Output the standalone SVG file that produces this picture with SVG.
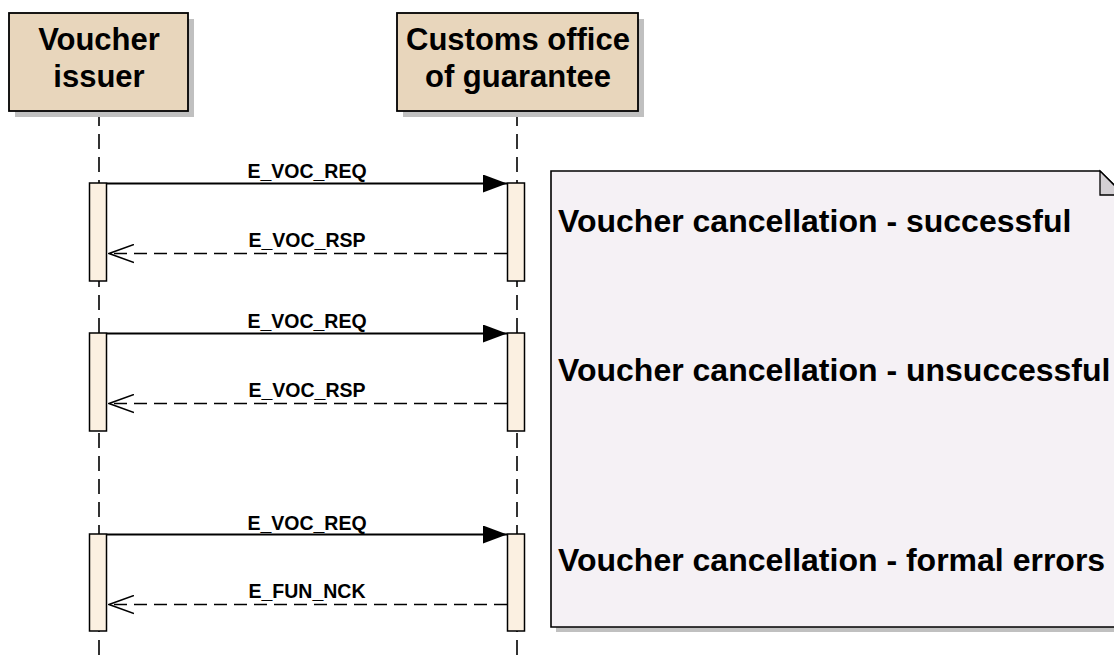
<svg xmlns="http://www.w3.org/2000/svg" width="1114" height="661" viewBox="0 0 1114 661">
<defs>
<style>
.actor{fill:#E8D6BC;stroke:#000;stroke-width:1.8}
.shadow{fill:#C0C0C0;stroke:none}
.act{fill:#FBF0E1;stroke:#000;stroke-width:1.5}
.life{stroke:#000;stroke-width:1.6;stroke-dasharray:15 8;fill:none}
.msg{stroke:#000;stroke-width:1.8;fill:none}
.ret{stroke:#000;stroke-width:1.6;fill:none;stroke-dasharray:13 7}
.head{font-family:"Liberation Sans",Arial,sans-serif;font-weight:bold;font-size:31px;fill:#000;text-anchor:middle}
.lbl{font-family:"Liberation Sans",Arial,sans-serif;font-weight:bold;font-size:19.5px;fill:#000;text-anchor:middle}
.note{font-family:"Liberation Sans",Arial,sans-serif;font-weight:bold;font-size:32px;fill:#000}
</style>
<marker id="filled" viewBox="0 0 24 18" refX="24" refY="9" markerWidth="24" markerHeight="18" markerUnits="userSpaceOnUse" orient="auto">
<path d="M0,0 L24,9 L0,18 Z" fill="#000"/>
</marker>
<marker id="open" viewBox="0 0 26 20" refX="26" refY="10" markerWidth="26" markerHeight="20" markerUnits="userSpaceOnUse" orient="auto">
<path d="M0,1 L25,10 L0,19" fill="none" stroke="#000" stroke-width="1.6"/>
</marker>
</defs>
<rect width="1114" height="661" fill="#fff"/>

<g id="lifelines">
<line class="life" x1="99" y1="111" x2="99" y2="661"/>
<line class="life" x1="517" y1="111" x2="517" y2="661"/>
</g>

<g id="actor-voucher-issuer">
<rect class="shadow" x="15" y="19" width="179" height="98"/>
<rect class="actor" x="9" y="13" width="179" height="98"/>
<text class="head" x="99" y="50">Voucher</text>
<text class="head" x="99" y="87">issuer</text>
</g>

<g id="actor-customs-office">
<rect class="shadow" x="403" y="19" width="241" height="98"/>
<rect class="actor" x="397" y="13" width="241" height="98"/>
<text class="head" x="518" y="50">Customs office</text>
<text class="head" x="518" y="87">of guarantee</text>
</g>

<g id="note">
<path class="shadow" d="M556,176 H1105 L1129,200 V632 H556 Z"/>
<path d="M551,171 H1100 L1124,195 V627 H551 Z" fill="#F5F1F5" stroke="#000" stroke-width="1.6"/>
<path d="M1100,171 V195 H1124 Z" fill="#D4D0D4" stroke="#000" stroke-width="1.3"/>
<text class="note" x="558" y="232">Voucher cancellation - successful</text>
<text class="note" x="558" y="381">Voucher cancellation - unsuccessful</text>
<text class="note" x="558" y="571">Voucher cancellation - formal errors</text>
</g>

<g id="activations">
<rect class="act" x="89.5" y="183" width="17" height="98"/>
<rect class="act" x="507.5" y="183" width="17" height="98"/>
<rect class="act" x="89.5" y="333" width="17" height="98"/>
<rect class="act" x="507.5" y="333" width="17" height="98"/>
<rect class="act" x="89.5" y="534" width="17" height="97"/>
<rect class="act" x="507.5" y="534" width="17" height="97"/>
</g>

<g id="connectors">
<line class="msg" x1="107" y1="183.5" x2="507" y2="183.5" marker-end="url(#filled)"/>
<text class="lbl" x="307" y="178">E_VOC_REQ</text>
<line class="ret" x1="507" y1="253.5" x2="108" y2="253.5" marker-end="url(#open)"/>
<text class="lbl" x="307" y="247">E_VOC_RSP</text>

<line class="msg" x1="107" y1="333.5" x2="507" y2="333.5" marker-end="url(#filled)"/>
<text class="lbl" x="307" y="328">E_VOC_REQ</text>
<line class="ret" x1="507" y1="403.5" x2="108" y2="403.5" marker-end="url(#open)"/>
<text class="lbl" x="307" y="397">E_VOC_RSP</text>

<line class="msg" x1="107" y1="534.5" x2="507" y2="534.5" marker-end="url(#filled)"/>
<text class="lbl" x="307" y="530">E_VOC_REQ</text>
<line class="ret" x1="507" y1="604.5" x2="108" y2="604.5" marker-end="url(#open)"/>
<text class="lbl" x="307" y="598">E_FUN_NCK</text>
</g>
</svg>
